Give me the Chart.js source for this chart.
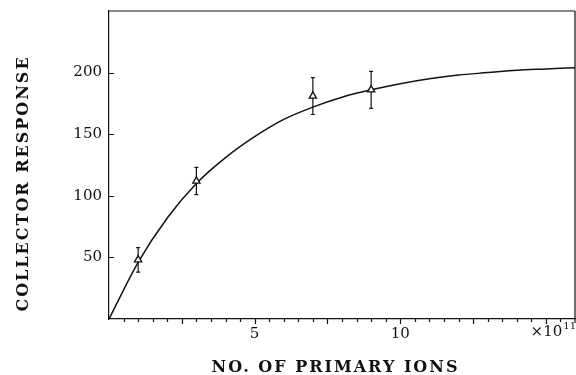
<!DOCTYPE html>
<html>
<head>
<meta charset="utf-8">
<script src="https://cdn.jsdelivr.net/npm/chart.js@4/dist/chart.umd.min.js"></script>
<style>
  html, body { margin: 0; padding: 0; background: #fff; }
  canvas { display: block; }
</style>
</head>
<body>
<canvas id="c" width="576" height="375"></canvas>
<script>
// Measured points (x in units of 10^11 primary ions)
const pointX = [1, 3, 7, 9];
const pointY = [48, 112, 181, 186];
const pointErr = [10, 11, 15, 15];

// Fitted curve
const curveX = [0, 1, 2, 3, 4, 5, 6, 7, 8, 9, 10, 11, 12, 13, 14, 15, 16];
const curveY = [0, 46, 82, 110, 131, 148, 162, 172, 180, 186, 191, 195, 198, 200, 202, 203, 204];

const xTickLabels = [5, 10];
const yTickLabels = [50, 100, 150, 200];
const xMinorStep = 0.5;
const xMajorStep = 2.5;
const xTitle = 'NO. OF PRIMARY IONS';
const yTitle = 'COLLECTOR RESPONSE';

const INK = '#111';
const SERIF = "'DejaVu Serif', 'Liberation Serif', serif";

const frameAndTicks = {
  id: 'frameAndTicks',
  beforeDatasetsDraw(chart) {
    const ctx = chart.ctx;
    const xs = chart.scales.x, ys = chart.scales.y;
    ctx.save();
    ctx.strokeStyle = INK;
    ctx.lineWidth = 1.2;
    // error bars
    pointX.forEach((xv, i) => {
      const px = xs.getPixelForValue(xv);
      const top = ys.getPixelForValue(pointY[i] + pointErr[i]);
      const bot = ys.getPixelForValue(pointY[i] - pointErr[i]);
      ctx.beginPath();
      ctx.moveTo(px, top); ctx.lineTo(px, bot);
      ctx.moveTo(px - 2, top); ctx.lineTo(px + 2, top);
      ctx.moveTo(px - 2, bot); ctx.lineTo(px + 2, bot);
      ctx.stroke();
    });
    ctx.restore();
  },
  afterDraw(chart) {
    const ctx = chart.ctx;
    const a = chart.chartArea;
    const xs = chart.scales.x, ys = chart.scales.y;
    ctx.save();
    ctx.strokeStyle = INK;
    ctx.lineWidth = 1.2;
    ctx.beginPath();
    // top and right frame
    ctx.moveTo(a.left, a.top); ctx.lineTo(a.right, a.top);
    ctx.moveTo(a.right, a.top); ctx.lineTo(a.right, a.bottom + 4);
    // y ticks (inward)
    yTickLabels.forEach(v => {
      const py = Math.round(ys.getPixelForValue(v)) + 0.5;
      ctx.moveTo(a.left, py); ctx.lineTo(a.left + 5, py);
    });
    // x ticks (outward)
    for (let v = xMinorStep; v < xs.max; v += xMinorStep) {
      const px = Math.round(xs.getPixelForValue(v)) + 0.5;
      const major = Math.abs(v / xMajorStep - Math.round(v / xMajorStep)) < 1e-6;
      ctx.moveTo(px, a.bottom); ctx.lineTo(px, a.bottom + (major ? 5 : 3));
    }
    ctx.stroke();

    ctx.fillStyle = INK;
    // multiplier label
    ctx.textBaseline = 'middle';
    ctx.textAlign = 'right';
    ctx.font = "10px " + SERIF;
    ctx.fillText('11', 576, a.bottom + 7);
    const w = ctx.measureText('11').width;
    ctx.font = "15px " + SERIF;
    ctx.fillText('×10', 576 - w - 1, a.bottom + 13);

    // axis titles
    ctx.font = "bold 16px " + SERIF;
    ctx.letterSpacing = '2px';
    ctx.textBaseline = 'alphabetic';
    ctx.textAlign = 'left';
    const tw = ctx.measureText(xTitle).width - 2;
    ctx.fillText(xTitle, 334.5 - tw / 2, 372);
    const th = ctx.measureText(yTitle).width - 2;
    ctx.save();
    ctx.translate(28, 184.5 + th / 2);
    ctx.rotate(-Math.PI / 2);
    ctx.fillText(yTitle, 0, 0);
    ctx.restore();
    ctx.restore();
  }
};

new Chart(document.getElementById('c'), {
  type: 'scatter',
  data: {
    datasets: [
      {
        data: pointX.map((x, i) => ({ x, y: pointY[i] })),
        pointStyle: 'triangle',
        pointRadius: 4.2,
        pointBackgroundColor: '#fff',
        pointBorderColor: INK,
        pointBorderWidth: 1.3,
        showLine: false
      },
      {
        data: curveX.map((x, i) => ({ x, y: curveY[i] })),
        showLine: true,
        borderColor: INK,
        borderWidth: 1.5,
        pointRadius: 0,
        cubicInterpolationMode: 'monotone',
        fill: false
      }
    ]
  },
  options: {
    responsive: false,
    animation: false,
    devicePixelRatio: 1,
    layout: { autoPadding: false, padding: { top: 11, right: 1, left: 0, bottom: 0 } },
    plugins: { legend: { display: false }, tooltip: { enabled: false } },
    scales: {
      x: {
        type: 'linear',
        min: 0, max: 16,
        grid: { display: false, drawTicks: false },
        border: { display: true, color: INK, width: 1.2 },
        afterBuildTicks: s => { s.ticks = xTickLabels.map(v => ({ value: v })); },
        ticks: { color: INK, font: { family: SERIF, size: 15 }, padding: 6, maxRotation: 0 },
        title: { display: false },
        afterFit: s => { s.height = 56; s.paddingLeft = 0; s.paddingRight = 0; }
      },
      y: {
        type: 'linear',
        min: 0, max: 250,
        grid: { display: false, drawTicks: false },
        border: { display: true, color: INK, width: 1.2 },
        afterBuildTicks: s => { s.ticks = yTickLabels.map(v => ({ value: v })); },
        ticks: { color: INK, font: { family: SERIF, size: 15 }, padding: 7 },
        title: { display: false },
        afterFit: s => { s.width = 109; s.paddingTop = 0; s.paddingBottom = 0; }
      }
    }
  },
  plugins: [frameAndTicks]
});
</script>
</body>
</html>
